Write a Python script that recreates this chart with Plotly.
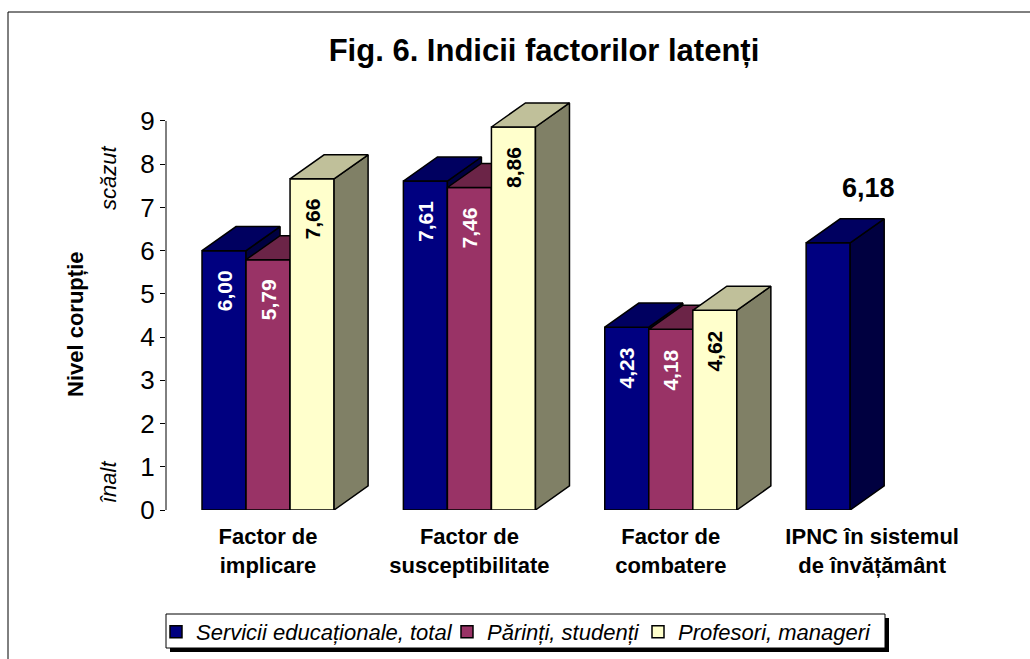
import plotly.graph_objects as go

# ---------------- data ----------------
categories = ["Factor de<br>implicare", "Factor de<br>susceptibilitate",
              "Factor de<br>combatere", "IPNC în sistemul<br>de învățământ"]
series_names = ["Servicii educaționale, total", "Părinți, studenți", "Profesori, manageri"]
servicii = [6.00, 7.61, 4.23, 6.18]
parinti = [5.79, 7.46, 4.18, None]
profesori = [7.66, 8.86, 4.62, None]
label_inside = [True, True, True, False]
y_ticks = [0, 1, 2, 3, 4, 5, 6, 7, 8, 9]

values = [servicii, parinti, profesori]

# ---------------- style ----------------
FONT = "Liberation Sans, Arial, sans-serif"
W = 0.2186      # bar width (category units)
DX = 0.169      # 3D depth, x (category units)
DY = 0.556      # 3D depth, y (value units)
fronts = ["#000080", "#993366", "#FFFFCC"]
tops = ["#000060", "#6B2447", "#C0C09A"]
sides = ["#000040", "#541C38", "#808066"]
label_colors = ["white", "white", "black"]
XR = [-0.5067, 3.6]
YR = [0, 9.6]
ML, MR, MT, MB = 166, 37, 95, 149
PW, PH = 1030 - ML - MR, 659 - MT - MB


def px(p):   # pixel x -> paper x
    return (p - ML) / PW


def py(p):   # pixel y -> paper y
    return (659 - MB - p) / PH


cat_x = list(range(len(categories)))
legend_ids = ["legend", "legend2", "legend3"]
legend_px = [156, 447, 638]

fig = go.Figure()
annotations = []
for k, (name, vals) in enumerate(zip(series_names, values)):
    xa = "x" if k == 0 else f"x{k+1}"
    ya = "y" if k == 0 else f"y{k+1}"
    xs = [c + (k - 1) * W for c in cat_x]
    pts = [(x, v, i) for i, (x, v) in enumerate(zip(xs, vals)) if v is not None]
    fig.add_trace(go.Bar(
        x=[p[0] for p in pts], y=[p[1] for p in pts], width=W, name=name,
        marker=dict(color=fronts[k], line=dict(color="black", width=1.5)),
        xaxis=xa, yaxis=ya, showlegend=True, legend=legend_ids[k], hoverinfo="skip"))
    tx, ty, sx, sy = [], [], [], []
    for x, v, i in pts:
        l, r = x - W / 2, x + W / 2
        tx += [l, r, r + DX, l + DX, l, None]
        ty += [v, v, v + DY, v + DY, v, None]
        sx += [r, r + DX, r + DX, r, r, None]
        sy += [0, DY, v + DY, v, 0, None]
    fig.add_trace(go.Scatter(x=sx, y=sy, fill="toself", fillcolor=sides[k], mode="lines",
                             line=dict(color="black", width=1.5), xaxis=xa, yaxis=ya,
                             showlegend=False, hoverinfo="skip"))
    fig.add_trace(go.Scatter(x=tx, y=ty, fill="toself", fillcolor=tops[k], mode="lines",
                             line=dict(color="black", width=1.5), xaxis=xa, yaxis=ya,
                             showlegend=False, hoverinfo="skip"))
    for x, v, i in pts:
        txt = f"{v:.2f}".replace(".", ",")
        if label_inside[i]:
            annotations.append(dict(x=x, y=v, xref="x", yref="y", text=f"<b>{txt}</b>",
                                    textangle=-90, showarrow=False, yanchor="top",
                                    xanchor="center", yshift=-18,
                                    font=dict(family=FONT, size=21, color=label_colors[k])))
        else:
            annotations.append(dict(x=cat_x[i], y=v, xref="x", yref="y", text=f"<b>{txt}</b>",
                                    showarrow=False, yanchor="middle", xanchor="center",
                                    yshift=55, xshift=-4,
                                    font=dict(family=FONT, size=27, color="black")))

# axis side labels
annotations += [
    dict(x=px(75), y=py(325), xref="paper", yref="paper", text="<b>Nivel corupție</b>",
         textangle=-90, showarrow=False, xanchor="center", yanchor="middle",
         font=dict(family=FONT, size=22, color="black")),
    dict(x=px(108), y=py(178), xref="paper", yref="paper", text="<i>scăzut</i>",
         textangle=-90, showarrow=False, xanchor="center", yanchor="middle",
         font=dict(family=FONT, size=22, color="black")),
    dict(x=px(108), y=py(482), xref="paper", yref="paper", text="<i>înalt</i>",
         textangle=-90, showarrow=False, xanchor="center", yanchor="middle",
         font=dict(family=FONT, size=22, color="black")),
]

axis_common = dict(range=XR, showgrid=False, zeroline=False, showline=False,
                   fixedrange=True, automargin=False)
yaxis_common = dict(range=YR, showgrid=False, zeroline=False, showline=False,
                    fixedrange=True, automargin=False)

legend_style = dict(orientation="h", xanchor="left", yanchor="middle", y=py(632),
                    bgcolor="rgba(0,0,0,0)", borderwidth=0,
                    font=dict(family=FONT, size=22, color="black", style="italic"))

fig.update_layout(
    width=1030, height=659,
    margin=dict(l=ML, r=MR, t=MT, b=MB, autoexpand=False),
    paper_bgcolor="white", plot_bgcolor="white",
    title=dict(text="<b>Fig. 6. Indicii factorilor latenți</b>", x=544 / 1030, xref="container",
               y=1 - 50 / 659, yref="container", xanchor="center", yanchor="middle",
               font=dict(family=FONT, size=31, color="black")),
    xaxis=dict(**axis_common, tickmode="array", tickvals=cat_x, ticktext=categories,
               ticks="", ticklabelstandoff=11,
               tickfont=dict(family=FONT, size=22, color="black", weight="bold")),
    xaxis2=dict(**axis_common, overlaying="x", visible=False),
    xaxis3=dict(**axis_common, overlaying="x", visible=False),
    yaxis=dict(**yaxis_common, tickmode="array", tickvals=y_ticks, ticks="outside",
               ticklen=5, tickwidth=1, tickcolor="black",
               tickfont=dict(family=FONT, size=26, color="black")),
    yaxis2=dict(**yaxis_common, overlaying="y", visible=False),
    yaxis3=dict(**yaxis_common, overlaying="y", visible=False),
    showlegend=True,
    legend=dict(**legend_style, x=px(legend_px[0])),
    legend2=dict(**legend_style, x=px(legend_px[1])),
    legend3=dict(**legend_style, x=px(legend_px[2])),
    annotations=annotations,
    shapes=[
        # y axis line from 0 to 9
        dict(type="line", xref="paper", yref="y", x0=0, x1=0, y0=y_ticks[0], y1=y_ticks[-1],
             line=dict(color="black", width=1)),
        # outer frame
        dict(type="rect", xref="paper", yref="paper", x0=px(8), x1=px(1040),
             y0=py(670), y1=py(12), line=dict(color="black", width=1), layer="below"),
        # legend shadow
        dict(type="rect", xref="paper", yref="paper", x0=px(170), x1=px(889),
             y0=py(652), y1=py(618), fillcolor="black",
             line=dict(width=0), layer="below"),
        # legend box
        dict(type="rect", xref="paper", yref="paper", x0=px(166), x1=px(885),
             y0=py(648), y1=py(614), fillcolor="white",
             line=dict(color="black", width=1), layer="below"),
    ],
)

fig.write_html("out.html", config={"displayModeBar": False},
               post_script="document.body.style.margin='0';document.body.style.overflow='hidden';")
